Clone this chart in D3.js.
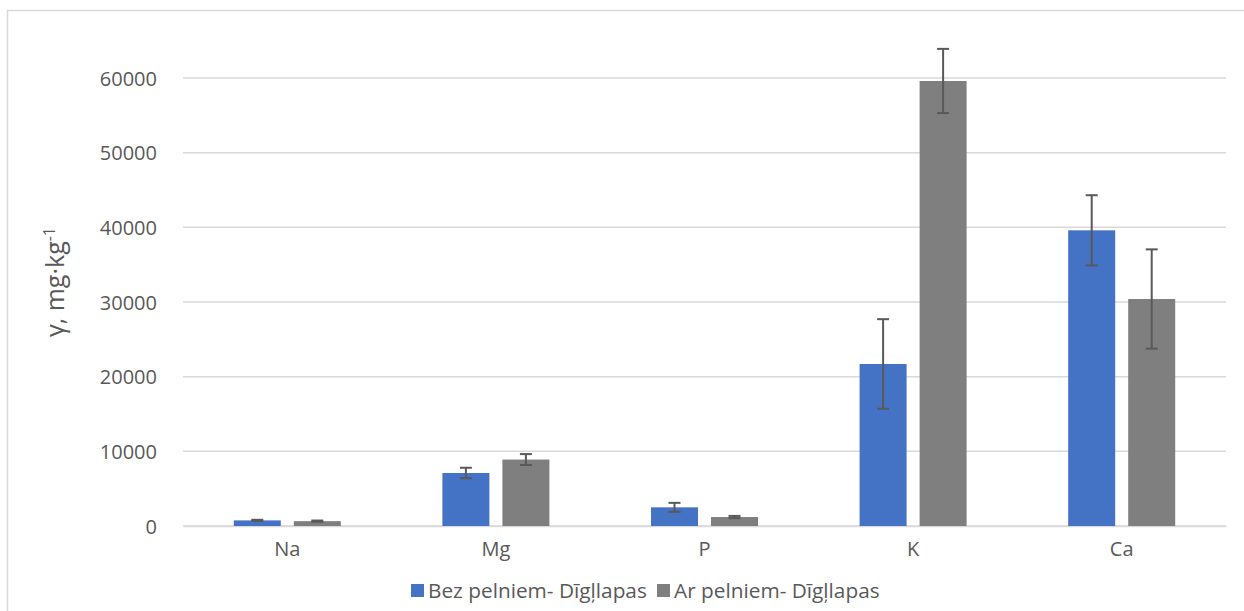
<!DOCTYPE html>
<html>
<head>
<meta charset="utf-8">
<script src="https://cdn.jsdelivr.net/npm/d3@7"></script>
<style>
  body { margin: 0; background: #fff; }
  text { font-family: "Open Sans", "Noto Sans", sans-serif; }
</style>
</head>
<body>
<div id="chart"></div>
<script>
// data
var categories = ["Na", "Mg", "P", "K", "Ca"];
var seriesNames = ["Bez pelniem- Dīgļlapas", "Ar pelniem- Dīgļlapas"];
var bezValues = [750, 7100, 2500, 21700, 39600];
var bezErrors = [80, 700, 600, 6000, 4700];
var arValues = [650, 8900, 1200, 59600, 30400];
var arErrors = [80, 730, 150, 4300, 6650];
var yTicks = [0, 10000, 20000, 30000, 40000, 50000, 60000];
var colors = ["#4472c4", "#7f7f7f"];

function drawChart() {
    var width = 1244, height = 611;
    var margin = {top: 78, right: 18, bottom: 85, left: 183};

    var svg = d3.select("#chart").append("svg")
        .attr("width", width)
        .attr("height", height);

    // chart border
    svg.append("rect")
        .attr("x", 7.5).attr("y", 10.5)
        .attr("width", width).attr("height", height)
        .attr("fill", "none")
        .attr("stroke", "#d9d9d9")
        .attr("stroke-width", 1.5);

    var x = d3.scaleBand()
        .domain(categories)
        .range([margin.left, width - margin.right]);

    var y = d3.scaleLinear()
        .domain([0, 60000])
        .range([height - margin.bottom, margin.top]);

    var x1 = d3.scaleBand()
        .domain([0, 1])
        .range([x.bandwidth() / 2 - 53.5, x.bandwidth() / 2 + 53.5])
        .paddingInner(0.217);

    // gridlines
    svg.append("g")
        .selectAll("line")
        .data(yTicks)
        .enter()
        .append("line")
        .attr("x1", margin.left)
        .attr("x2", width - margin.right)
        .attr("y1", d => y(d))
        .attr("y2", d => y(d))
        .attr("stroke", "#d9d9d9")
        .attr("stroke-width", 1.5);

    // y axis
    var yAxis = svg.append("g")
        .attr("transform", `translate(${margin.left - 23},0)`)
        .call(d3.axisLeft(y).tickValues(yTicks).tickSize(0).tickFormat(d3.format("d")));
    yAxis.select(".domain").remove();
    yAxis.selectAll("text")
        .attr("fill", "#595959")
        .attr("font-size", "20px")
        .attr("dy", "0.35em");

    // x axis
    var xAxis = svg.append("g")
        .attr("transform", `translate(0,${height - margin.bottom})`)
        .call(d3.axisBottom(x).tickSize(0).tickPadding(16));
    xAxis.select(".domain").attr("stroke", "#d9d9d9").attr("stroke-width", 1.5);
    xAxis.selectAll("text")
        .attr("fill", "#595959")
        .attr("font-size", "20px");

    // y label
    var yLabel = svg.append("text")
        .attr("transform", "translate(64,282) rotate(-90)")
        .attr("text-anchor", "middle")
        .attr("fill", "#595959")
        .attr("font-size", "25px");
    yLabel.append("tspan").text("γ, mg·kg");
    yLabel.append("tspan").attr("dy", -9).attr("font-size", "16px").text("-1");

    var allValues = [bezValues, arValues];
    var allErrors = [bezErrors, arErrors];

    var groups = svg.append("g")
        .selectAll("g")
        .data(categories)
        .enter()
        .append("g")
        .attr("transform", d => `translate(${x(d)},0)`);

    groups.selectAll("rect")
        .data((d, i) => [0, 1].map(s => ({s: s, v: allValues[s][i], e: allErrors[s][i]})))
        .enter()
        .append("rect")
        .attr("x", d => x1(d.s))
        .attr("width", x1.bandwidth())
        .attr("y", d => y(d.v))
        .attr("height", d => y(0) - y(d.v))
        .attr("fill", d => colors[d.s]);

    // error bars
    var err = groups.selectAll("g.err")
        .data((d, i) => [0, 1].map(s => ({s: s, v: allValues[s][i], e: allErrors[s][i]})))
        .enter()
        .append("g")
        .attr("class", "err")
        .attr("stroke", "#595959")
        .attr("stroke-width", 2);
    var cx = d => x1(d.s) + x1.bandwidth() / 2;
    err.append("line")
        .attr("x1", cx).attr("x2", cx)
        .attr("y1", d => y(d.v + d.e)).attr("y2", d => y(d.v - d.e));
    err.append("line")
        .attr("x1", d => cx(d) - 6).attr("x2", d => cx(d) + 6)
        .attr("y1", d => y(d.v + d.e)).attr("y2", d => y(d.v + d.e));
    err.append("line")
        .attr("x1", d => cx(d) - 6).attr("x2", d => cx(d) + 6)
        .attr("y1", d => y(d.v - d.e)).attr("y2", d => y(d.v - d.e));

    // legend
    var legendX = [411, 657];
    var legend = svg.append("g")
        .selectAll("g")
        .data(seriesNames)
        .enter()
        .append("g")
        .attr("transform", (d, i) => `translate(${legendX[i]},584)`);
    legend.append("rect")
        .attr("width", 13).attr("height", 13)
        .attr("fill", (d, i) => colors[i]);
    legend.append("text")
        .attr("x", 17).attr("y", 7)
        .attr("dy", "0.35em")
        .attr("fill", "#595959")
        .attr("font-size", "20.8px")
        .text(d => d);
}

window.onload = drawChart;
</script>
</body>
</html>
